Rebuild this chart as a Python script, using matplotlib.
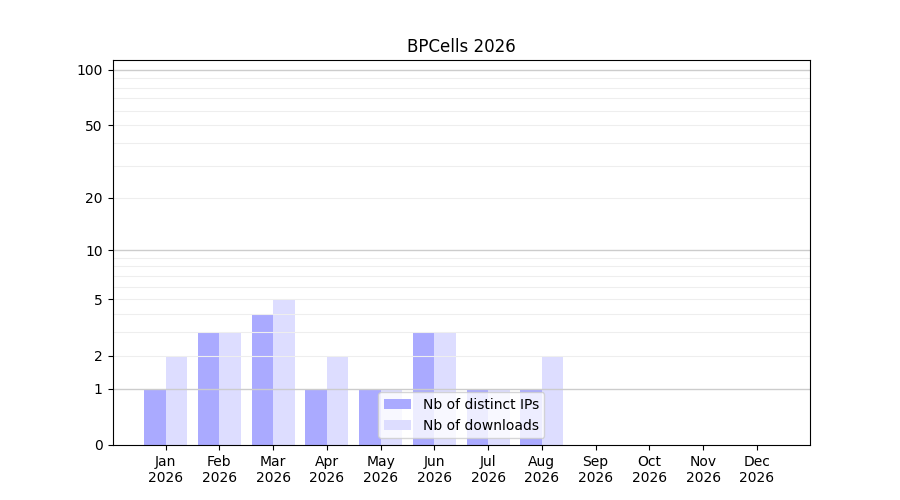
import numpy as np
import matplotlib
matplotlib.use("Agg")
import matplotlib.pyplot as plt
from matplotlib.ticker import FixedLocator

months = ["Jan", "Feb", "Mar", "Apr", "May", "Jun", "Jul", "Aug", "Sep", "Oct", "Nov", "Dec"]
year = 2026
distinct_ips = [1, 3, 4, 1, 1, 3, 1, 1, 0, 0, 0, 0]
downloads = [2, 3, 5, 2, 1, 3, 1, 2, 0, 0, 0, 0]

def fwd(y):
    return np.log10(1 + np.clip(y, 0, None))

def inv(y):
    return 10 ** y - 1

fig, ax = plt.subplots(figsize=(9, 5), dpi=100)
x = np.arange(1, len(months) + 1)
ax.bar(x - 0.4, distinct_ips, width=0.4, align="edge", color="#aaaaff", label="Nb of distinct IPs")
ax.bar(x, downloads, width=0.4, align="edge", color="#ddddff", label="Nb of downloads")

ax.set_yscale("function", functions=(fwd, inv))
ax.set_ylim(0, 113)
ax.yaxis.set_major_locator(FixedLocator([0, 1, 2, 5, 10, 20, 50, 100]))
ax.yaxis.set_major_formatter(plt.FuncFormatter(lambda v, p: "%d" % v))
minor = [2, 3, 4, 5, 6, 7, 8, 9, 20, 30, 40, 50, 60, 70, 80, 90]
ax.yaxis.set_minor_locator(FixedLocator(minor))
ax.tick_params(axis="y", which="minor", length=0)
ax.set_axisbelow(False)
ax.grid(False)
for v in [1, 10, 100]:
    ax.axhline(v, color="#cccccc", linewidth=1, zorder=2.5)
for v in minor:
    ax.axhline(v, color="#eeeeee", linewidth=0.8, zorder=2.4)

ax.set_xticks(x)
ax.set_xticklabels(["%s\n%d" % (m, year) for m in months])
ax.set_title("BPCells %d" % year)
ax.legend(loc="lower center")

fig.savefig("out.png")
